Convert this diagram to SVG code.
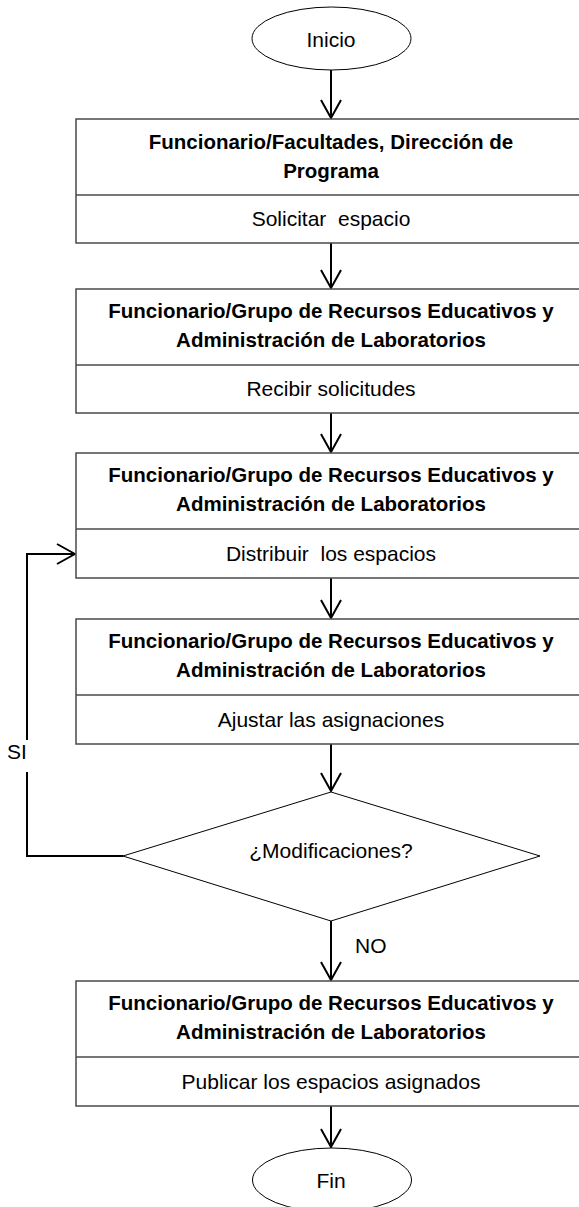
<svg xmlns="http://www.w3.org/2000/svg" width="579" height="1207" viewBox="0 0 579 1207">
<style>
.box{fill:#fff;stroke:#4a4a4a;stroke-width:1.5}
.sep{stroke:#4a4a4a;stroke-width:1.5}
.term{fill:#fff;stroke:#000;stroke-width:1}
.h{font-family:"Liberation Sans",Arial,sans-serif;font-size:20.5px;font-weight:bold;text-anchor:middle;fill:#000}
.t{font-family:"Liberation Sans",Arial,sans-serif;font-size:21px;text-anchor:middle;fill:#000;white-space:pre}
.l{font-family:"Liberation Sans",Arial,sans-serif;font-size:21px;fill:#000}
.c{fill:none;stroke:#000;stroke-width:2}
</style>
<defs>
<marker id="arr" viewBox="0 0 20 22" refX="19" refY="11" markerWidth="20" markerHeight="22" markerUnits="userSpaceOnUse" orient="auto">
<path d="M1,1 L19,11 L1,21" fill="none" stroke="#000" stroke-width="2"/>
</marker>
</defs>
<rect width="579" height="1207" fill="#fff"/>
<g id="connectors">
<line class="c" x1="331" y1="70" x2="331" y2="118" marker-end="url(#arr)"/>
<line class="c" x1="331" y1="243" x2="331" y2="288" marker-end="url(#arr)"/>
<line class="c" x1="331" y1="413" x2="331" y2="452" marker-end="url(#arr)"/>
<line class="c" x1="331" y1="578" x2="331" y2="618" marker-end="url(#arr)"/>
<line class="c" x1="331" y1="744" x2="331" y2="791" marker-end="url(#arr)"/>
<line class="c" x1="331" y1="921" x2="331" y2="980" marker-end="url(#arr)"/>
<line class="c" x1="331" y1="1106" x2="331" y2="1147" marker-end="url(#arr)"/>
<polyline class="c" points="123,856 27,856 27,772"/>
<polyline class="c" points="27,740 27,554 75,554" marker-end="url(#arr)"/>
<text class="l" x="7" y="759">SI</text>
<text class="l" x="355" y="953">NO</text>
</g>
<g id="inicio">
<ellipse class="term" cx="331.5" cy="38.5" rx="79.5" ry="31.5"/>
<text class="t" x="331" y="47">Inicio</text>
</g>
<g id="n1">
<rect class="box" x="76" y="119" width="510" height="124"/>
<line class="sep" x1="76" y1="195" x2="586" y2="195"/>
<text class="h" x="331" y="149">Funcionario/Facultades, Dirección de</text>
<text class="h" x="331" y="178">Programa</text>
<text class="t" x="331" y="226">Solicitar  espacio</text>
</g>
<g id="n2">
<rect class="box" x="76" y="289" width="510" height="124"/>
<line class="sep" x1="76" y1="365" x2="586" y2="365"/>
<text class="h" x="331" y="318">Funcionario/Grupo de Recursos Educativos y</text>
<text class="h" x="331" y="347">Administración de Laboratorios</text>
<text class="t" x="331" y="396">Recibir solicitudes</text>
</g>
<g id="n3">
<rect class="box" x="76" y="453" width="510" height="125"/>
<line class="sep" x1="76" y1="529" x2="586" y2="529"/>
<text class="h" x="331" y="482">Funcionario/Grupo de Recursos Educativos y</text>
<text class="h" x="331" y="511">Administración de Laboratorios</text>
<text class="t" x="331" y="561">Distribuir  los espacios</text>
</g>
<g id="n4">
<rect class="box" x="76" y="619" width="510" height="125"/>
<line class="sep" x1="76" y1="695" x2="586" y2="695"/>
<text class="h" x="331" y="648">Funcionario/Grupo de Recursos Educativos y</text>
<text class="h" x="331" y="677">Administración de Laboratorios</text>
<text class="t" x="331" y="727">Ajustar las asignaciones</text>
</g>
<g id="decision">
<polygon points="331,792 540,856 331,921 123,856" fill="#fff" stroke="#000" stroke-width="1"/>
<text class="t" x="331" y="858">¿Modificaciones?</text>
</g>
<g id="n5">
<rect class="box" x="76" y="981" width="510" height="125"/>
<line class="sep" x1="76" y1="1057" x2="586" y2="1057"/>
<text class="h" x="331" y="1010">Funcionario/Grupo de Recursos Educativos y</text>
<text class="h" x="331" y="1039">Administración de Laboratorios</text>
<text class="t" x="331" y="1089">Publicar los espacios asignados</text>
</g>
<g id="fin">
<ellipse class="term" cx="332" cy="1180" rx="79.5" ry="32"/>
<text class="t" x="331" y="1188">Fin</text>
</g>
</svg>
